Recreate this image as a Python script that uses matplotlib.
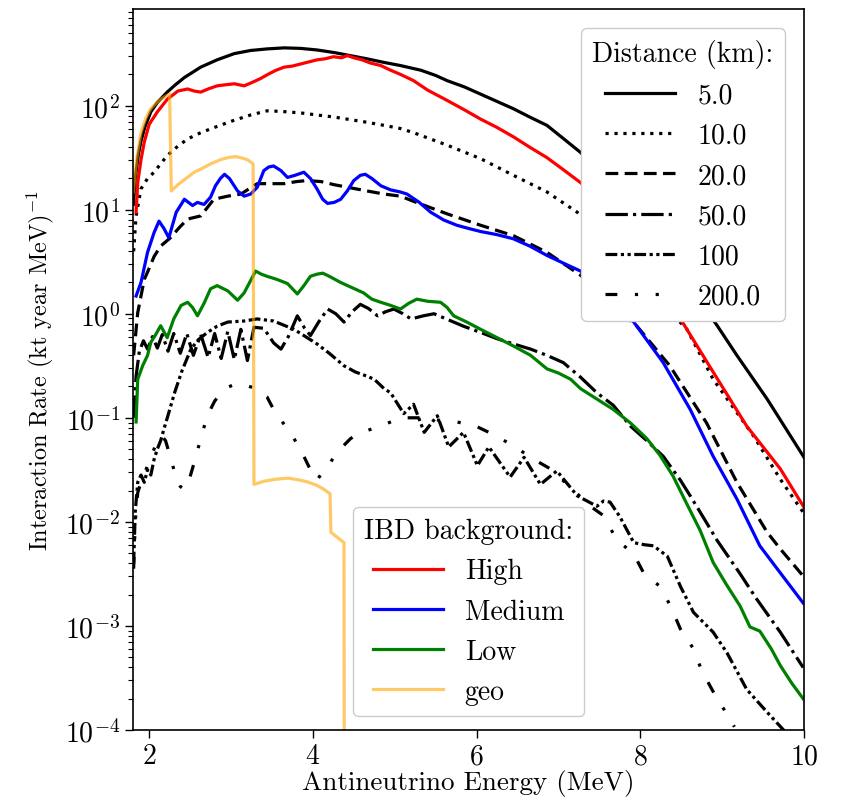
import numpy as np
import matplotlib
matplotlib.use("Agg")
import matplotlib.pyplot as plt

plt.rcParams['font.family'] = 'serif'
plt.rcParams['font.serif'] = ['cmr10']
plt.rcParams['mathtext.fontset'] = 'cm'
plt.rcParams['axes.formatter.use_mathtext'] = True
plt.rcParams['font.size'] = 20

# ---- data: energy (MeV) and log10 of the interaction rate ----
# distance curves (black)
e_5 = [1.806, 1.83, 1.866, 1.9, 1.95, 2.02, 2.1, 2.22, 2.32, 2.43, 2.63, 2.83, 3.04, 3.24, 3.44,
       3.65, 3.85, 4.05, 4.26, 4.46, 4.66, 4.87, 5.07, 5.32, 5.5, 5.64, 5.85, 6.05, 6.25, 6.45,
       6.65, 6.86, 7.05, 7.27, 7.45, 7.6, 8.0, 8.5, 8.94, 9.18, 9.55, 10.0]
l_5 = [1.05, 1.3, 1.52, 1.66, 1.80, 1.94, 2.03, 2.13, 2.2, 2.27, 2.37, 2.44, 2.50, 2.53, 2.545,
       2.555, 2.55, 2.535, 2.51, 2.48, 2.45, 2.415, 2.385, 2.34, 2.29, 2.24, 2.18, 2.11, 2.04, 1.97,
       1.89, 1.81, 1.69, 1.55, 1.41, 1.26, 0.85, 0.37, -0.115, -0.40, -0.82, -1.38]

e_10 = [1.81, 1.84, 1.90, 1.98, 2.06, 2.14, 2.22, 2.35, 2.47, 2.63, 2.83, 3.04, 3.24, 3.44, 3.6,
        3.85, 4.05, 4.26, 4.46, 4.66, 4.87, 5.07, 5.23, 5.64, 6.05, 6.45, 6.86, 7.23, 7.6, 8.0,
        8.3, 8.57, 8.89, 9.38, 9.71, 10.0]
l_10 = [0.6, 0.94, 1.2, 1.3, 1.36, 1.44, 1.52, 1.61, 1.68, 1.74, 1.80, 1.86, 1.91, 1.95, 1.945,
        1.93, 1.91, 1.89, 1.865, 1.84, 1.81, 1.78, 1.74, 1.62, 1.49, 1.33, 1.17, 0.975, 0.70, 0.37,
        0.07, -0.15, -0.63, -1.17, -1.59, -1.92]

e_20 = [1.81, 1.86, 1.94, 1.98, 2.06, 2.14, 2.26, 2.37, 2.47, 2.63, 2.79, 2.96, 3.12, 3.32, 3.5,
        3.65, 3.8, 3.93, 4.1, 4.26, 4.46, 4.66, 4.87, 5.07, 5.23, 5.64, 6.05, 6.45, 6.86, 7.27,
        7.6, 7.96, 8.36, 8.81, 9.18, 9.55, 9.71, 10.0]
l_20 = [-0.4, 0.01, 0.33, 0.40, 0.55, 0.65, 0.73, 0.83, 0.91, 0.94, 1.10, 1.13, 1.15, 1.25, 1.25,
        1.25, 1.27, 1.28, 1.27, 1.24, 1.21, 1.18, 1.15, 1.13, 1.08, 0.96, 0.85, 0.75, 0.59, 0.37,
        0.12, -0.12, -0.50, -1.05, -1.62, -2.10, -2.26, -2.53]

e_50 = [1.81, 1.84, 1.88, 1.93, 1.98, 2.04, 2.10, 2.16, 2.23, 2.30, 2.38, 2.46, 2.54, 2.63, 2.72,
        2.80, 2.88, 2.96, 3.04, 3.12, 3.20, 3.28, 3.40, 3.52, 3.61, 3.70, 3.81, 3.90, 3.97, 4.07,
        4.18, 4.28, 4.38, 4.48, 4.58, 4.68, 4.79, 4.89, 4.99, 5.1, 5.2, 5.35, 5.48, 5.6, 5.84,
        6.05, 6.25, 6.45, 6.66, 6.86, 7.06, 7.27, 7.47, 7.67, 7.88, 8.08, 8.28, 8.49, 8.61, 8.78,
        8.94, 9.22, 9.42, 9.71, 9.99]
l_50 = [-1.0, -0.6, -0.36, -0.26, -0.34, -0.22, -0.33, -0.20, -0.36, -0.19, -0.38, -0.19, -0.40,
        -0.20, -0.42, -0.19, -0.43, -0.17, -0.44, -0.15, -0.45, -0.13, -0.14, -0.28, -0.34, -0.22,
        -0.02, -0.14, -0.21, -0.08, 0.045, 0.0, -0.08, 0.02, 0.09, 0.05, -0.02, 0.02, 0.045, 0.0,
        -0.05, -0.02, 0.0, -0.04, -0.12, -0.18, -0.24, -0.29, -0.34, -0.40, -0.47, -0.61, -0.76,
        -0.88, -1.08, -1.22, -1.37, -1.60, -1.75, -1.97, -2.18, -2.50, -2.74, -3.06, -3.40]

e_100 = [1.81, 1.83, 1.86, 1.9, 1.94, 1.98, 2.02, 2.06, 2.1, 2.14, 2.18, 2.24, 2.31, 2.4, 2.51,
         2.6, 2.71, 2.83, 2.96, 3.16, 3.32, 3.52, 3.77, 4.05, 4.2, 4.38, 4.52, 4.66, 4.75, 4.87,
         4.95, 5.11, 5.23, 5.36, 5.52, 5.66, 5.84, 6.01, 6.15, 6.41, 6.58, 6.78, 6.98, 7.23, 7.35,
         7.47, 7.55, 7.63, 7.75, 7.92, 8.05, 8.16, 8.33, 8.49, 8.65, 8.89, 9.06, 9.30, 9.55, 9.75,
         9.9]
l_100 = [-2.4, -1.9, -1.62, -1.55, -1.62, -1.50, -1.55, -1.40, -1.30, -1.22, -1.11, -0.95, -0.76,
         -0.55, -0.34, -0.25, -0.18, -0.12, -0.08, -0.07, -0.05, -0.07, -0.15, -0.29, -0.38, -0.50,
         -0.56, -0.60, -0.63, -0.72, -0.76, -0.96, -0.87, -1.14, -0.98, -1.28, -1.14, -1.46, -1.28,
         -1.57, -1.38, -1.64, -1.51, -1.75, -1.80, -1.85, -1.80, -1.81, -1.95, -2.20, -2.22, -2.23,
         -2.33, -2.62, -2.87, -3.06, -3.26, -3.61, -3.83, -4.0, -4.15]

e_200 = [1.81, 1.83, 1.86, 1.9, 1.95, 2.0, 2.05, 2.1, 2.15, 2.2, 2.26, 2.32, 2.38, 2.43, 2.48,
         2.55, 2.63, 2.71, 2.8, 2.92, 3.04, 3.16, 3.3, 3.44, 3.52, 3.69, 3.77, 3.89, 3.97, 4.05,
         4.12, 4.2, 4.26, 4.36, 4.46, 4.56, 4.71, 4.89, 5.07, 5.3, 5.5, 5.76, 5.99, 6.23, 6.47,
         6.7, 6.9, 7.15, 7.39, 7.55, 7.71, 7.92, 8.04, 8.24, 8.37, 8.49, 8.65, 8.75, 8.91, 9.06,
         9.15]
l_200 = [-2.45, -2.0, -1.72, -1.62, -1.52, -1.42, -1.32, -1.22, -1.17, -1.22, -1.38, -1.55, -1.66,
         -1.69, -1.62, -1.43, -1.2, -0.98, -0.84, -0.72, -0.68, -0.68, -0.72, -0.80, -0.92, -1.11,
         -1.2, -1.37, -1.50, -1.60, -1.52, -1.45, -1.37, -1.28, -1.20, -1.15, -1.11, -1.06, -1.0,
         -1.0, -1.02, -1.04, -1.08, -1.17, -1.28, -1.40, -1.49, -1.67, -1.85, -1.94, -2.17, -2.31,
         -2.49, -2.62, -2.81, -3.03, -3.22, -3.43, -3.66, -3.85, -3.97]

# IBD background curves
e_high = [1.84, 1.86, 1.9, 1.94, 2.0, 2.1, 2.22, 2.35, 2.47, 2.55, 2.63, 2.72, 2.83, 2.93, 3.04,
          3.1, 3.16, 3.25, 3.36, 3.45, 3.55, 3.65, 3.75, 3.85, 3.95, 4.05, 4.15, 4.25, 4.35, 4.42,
          4.5, 4.6, 4.7, 4.83, 4.95, 5.07, 5.23, 5.4, 5.64, 5.85, 6.05, 6.25, 6.45, 6.65, 6.86,
          7.05, 7.27, 7.6, 8.0, 8.3, 8.53, 8.89, 9.3, 9.71, 10.0]
l_high = [0.975, 1.26, 1.48, 1.65, 1.82, 1.94, 2.06, 2.14, 2.16, 2.14, 2.13, 2.16, 2.19, 2.2, 2.21,
          2.2, 2.19, 2.22, 2.26, 2.30, 2.34, 2.37, 2.38, 2.40, 2.42, 2.44, 2.45, 2.47, 2.46, 2.48,
          2.46, 2.44, 2.41, 2.385, 2.34, 2.30, 2.24, 2.15, 2.05, 1.96, 1.87, 1.79, 1.70, 1.60, 1.50,
          1.39, 1.26, 1.02, 0.6, 0.2, -0.10, -0.56, -1.08, -1.49, -1.86]

e_med = [1.84, 1.90, 1.98, 2.06, 2.12, 2.18, 2.24, 2.33, 2.43, 2.53, 2.59, 2.67, 2.75, 2.81, 2.87,
         2.92, 2.98, 3.08, 3.16, 3.24, 3.32, 3.40, 3.46, 3.52, 3.61, 3.69, 3.78, 3.89, 3.97, 4.05,
         4.12, 4.18, 4.26, 4.34, 4.42, 4.50, 4.58, 4.64, 4.72, 4.83, 4.95, 5.07, 5.15, 5.3, 5.44,
         5.6, 5.76, 5.9, 6.05, 6.25, 6.45, 6.65, 6.86, 7.05, 7.27, 7.6, 7.92, 8.28, 8.61, 8.89,
         9.18, 9.46, 9.71, 9.99]
l_med = [0.17, 0.30, 0.59, 0.78, 0.89, 0.82, 0.73, 0.975, 1.10, 1.04, 1.07, 1.05, 1.12, 1.23, 1.30,
         1.34, 1.30, 1.18, 1.13, 1.15, 1.215, 1.375, 1.41, 1.42, 1.375, 1.31, 1.33, 1.36, 1.30, 1.20,
         1.10, 1.06, 1.07, 1.10, 1.18, 1.28, 1.33, 1.34, 1.30, 1.23, 1.19, 1.17, 1.15, 1.07, 0.975,
         0.90, 0.85, 0.82, 0.79, 0.76, 0.72, 0.65, 0.56, 0.49, 0.41, 0.20, -0.08, -0.47, -0.92, -1.37,
         -1.78, -2.23, -2.49, -2.78]

e_low = [1.84, 1.86, 1.92, 1.98, 2.02, 2.08, 2.14, 2.22, 2.3, 2.39, 2.47, 2.53, 2.59, 2.67, 2.75,
         2.83, 2.96, 3.08, 3.16, 3.24, 3.30, 3.37, 3.44, 3.56, 3.69, 3.81, 3.89, 3.97, 4.05, 4.12,
         4.2, 4.34, 4.48, 4.62, 4.72, 4.83, 4.95, 5.07, 5.17, 5.27, 5.4, 5.56, 5.64, 5.72, 5.88,
         6.05, 6.25, 6.45, 6.66, 6.86, 7.0, 7.15, 7.27, 7.47, 7.67, 7.88, 8.08, 8.24, 8.40, 8.57,
         8.73, 8.89, 9.05, 9.22, 9.34, 9.46, 9.6, 9.71, 9.85, 9.99]
l_low = [-1.04, -0.63, -0.5, -0.40, -0.275, -0.2, -0.115, -0.23, -0.05, 0.08, 0.11, 0.06, -0.02,
         0.10, 0.24, 0.27, 0.22, 0.13, 0.20, 0.32, 0.41, 0.38, 0.36, 0.33, 0.29, 0.19, 0.27, 0.36,
         0.38, 0.39, 0.36, 0.30, 0.25, 0.20, 0.14, 0.11, 0.08, 0.045, 0.10, 0.14, 0.12, 0.11, 0.06,
         -0.02, -0.08, -0.15, -0.23, -0.31, -0.40, -0.53, -0.57, -0.63, -0.72, -0.82, -0.92, -1.05,
         -1.20, -1.36, -1.56, -1.83, -2.08, -2.39, -2.6, -2.81, -3.01, -3.05, -3.22, -3.38, -3.55,
         -3.70]

e_geo = [1.806, 1.85, 1.90, 1.96, 2.02, 2.08, 2.14, 2.2, 2.25, 2.27, 2.35, 2.45, 2.55, 2.63, 2.75,
         2.87, 2.96, 3.05, 3.12, 3.2, 3.27, 3.28, 3.4, 3.55, 3.7, 3.85, 3.95, 4.05, 4.14, 4.21,
         4.22, 4.3, 4.38, 4.39]
l_geo = [1.17, 1.5, 1.74, 1.88, 1.97, 2.02, 2.06, 2.09, 2.11, 1.18, 1.24, 1.30, 1.36, 1.39, 1.44,
         1.48, 1.50, 1.51, 1.50, 1.48, 1.44, -1.64, -1.61, -1.59, -1.58, -1.60, -1.62, -1.65, -1.69,
         -1.73, -2.10, -2.15, -2.20, -8.0]

distance_labels = ['5.0', '10.0', '20.0', '50.0', '100', '200.0']
ibd_labels = ['High', 'Medium', 'Low', 'geo']

lw = 2.3
styles = ['-', (0, (1, 1.8)), (0, (4, 2)), (0, (7, 1.6, 1, 1.6)),
          (0, (3.7, 1.1, 1, 1.1, 1, 1.1)), (0, (3.7, 5.5, 1, 5.5, 1, 5.5))]

fig = plt.figure(figsize=(8.41, 8.12), dpi=100)
ax = fig.add_axes([0.1585, 0.0998, 0.7975, 0.888])

dist_data = [(e_5, l_5), (e_10, l_10), (e_20, l_20), (e_50, l_50), (e_100, l_100), (e_200, l_200)]
dist_handles = []
for (e, l), ls, lab in zip(dist_data, styles, distance_labels):
    h, = ax.plot(e, 10 ** np.array(l), color='black', lw=lw, ls=ls, label=lab)
    dist_handles.append(h)

ibd_handles = []
for e, l, c, lab in zip([e_high, e_med, e_low], [l_high, l_med, l_low],
                        ['red', 'blue', 'green'], ibd_labels[:3]):
    h, = ax.plot(e, 10 ** np.array(l), color=c, lw=lw, label=lab)
    ibd_handles.append(h)
h, = ax.plot(e_geo, 10 ** np.array(l_geo), color='orange', alpha=0.6, lw=lw, label=ibd_labels[3])
ibd_handles.append(h)

ax.set_yscale('log')
ax.set_xlim(1.806, 10)
ax.set_ylim(1e-4, 850)
ax.set_xticks([2, 4, 6, 8, 10])
ax.set_xlabel('Antineutrino Energy (MeV)', labelpad=0, fontsize=19.5)
ax.set_ylabel('Interaction Rate (kt year MeV)$^{-1}$', fontsize=17.5, labelpad=6)
ax.tick_params(which='major', length=6, width=1)
ax.tick_params(which='minor', length=3.5, width=0.8)
for s in ax.spines.values():
    s.set_linewidth(1.2)

leg1 = ax.legend(handles=dist_handles, title='Distance (km):', loc='upper right',
                 handlelength=2.5, title_fontsize=20, borderaxespad=0.7, framealpha=1)
ax.add_artist(leg1)
ax.legend(handles=ibd_handles, title='IBD background:', loc='lower center',
          handlelength=2.5, title_fontsize=20, framealpha=1)

fig.savefig('out.png', dpi=100)
